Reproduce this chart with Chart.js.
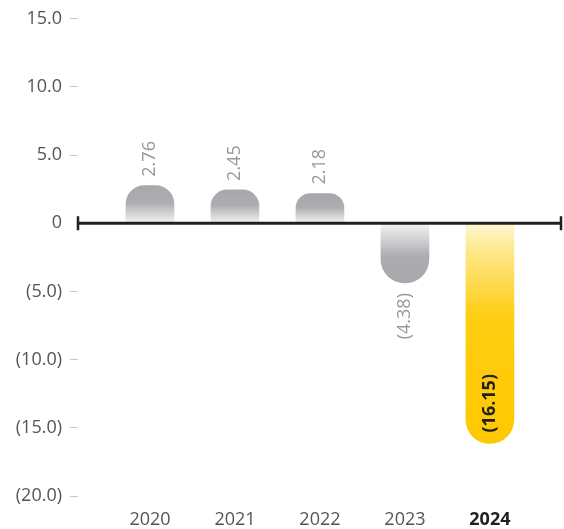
<!DOCTYPE html>
<html>
<head>
<meta charset="utf-8">
<script src="https://cdn.jsdelivr.net/npm/chart.js@4.4.1/dist/chart.umd.min.js"></script>
<style>
  html, body { margin: 0; padding: 0; background: #fff; }
  #wrap { width: 564px; height: 529px; }
</style>
</head>
<body>
<div id="wrap"><canvas id="myChart"></canvas></div>
<script>
// yearly values, negatives shown in brackets
const years = [2020, 2021, 2022, 2023, 2024];
const values = [2.76, 2.45, 2.18, -4.38, -16.15];
const yTicks = [15, 10, 5, 0, -5, -10, -15, -20];
const highlightYear = 2024;

const FONT = '"Open Sans", "DejaVu Sans", sans-serif';

function fmt(v) {
    return v < 0 ? '(' + Math.abs(v).toFixed(2) + ')' : v.toFixed(2);
}

function fmtTick(v) {
    if (v === 0) return '0';
    return v < 0 ? '(' + Math.abs(v).toFixed(1) + ')' : v.toFixed(1);
}

// gradient fades out towards the zero line
function barFill(context) {
    const chart = context.chart;
    const { ctx, chartArea, scales } = chart;
    if (!chartArea) return '#a8a9ad';
    const i = context.dataIndex;
    const v = values[i];
    const y0 = scales.y.getPixelForValue(0);
    const y1 = scales.y.getPixelForValue(v);
    const g = ctx.createLinearGradient(0, y0, 0, y1);
    if (years[i] === highlightYear) {
        g.addColorStop(0, '#fff7d6');
        g.addColorStop(0.12, '#fee88e');
        g.addColorStop(0.42, '#ffcd12');
        g.addColorStop(1, '#ffc900');
    } else {
        g.addColorStop(0, '#f4f4f5');
        g.addColorStop(0.55, '#acadb0');
        g.addColorStop(1, '#a7a8ab');
    }
    return g;
}

const zeroLine = {
    id: 'zeroLine',
    afterDatasetsDraw(chart) {
        const { ctx, chartArea, scales } = chart;
        const y0 = scales.y.getPixelForValue(0);
        const x1 = chartArea.left - 1;
        const x2 = chartArea.right - 1;
        ctx.save();
        ctx.strokeStyle = '#231f20';
        ctx.lineWidth = 3;
        ctx.beginPath();
        ctx.moveTo(x1, y0);
        ctx.lineTo(x2, y0);
        ctx.stroke();
        ctx.lineWidth = 2.5;
        ctx.beginPath();
        ctx.moveTo(x1 + 1, y0 - 7);
        ctx.lineTo(x1 + 1, y0 + 7);
        ctx.moveTo(x2 - 1, y0 - 7);
        ctx.lineTo(x2 - 1, y0 + 7);
        ctx.stroke();
        ctx.restore();
    }
};

const barLabels = {
    id: 'barLabels',
    afterDatasetsDraw(chart) {
        const { ctx } = chart;
        const meta = chart.getDatasetMeta(0);
        ctx.save();
        meta.data.forEach((bar, i) => {
            const v = values[i];
            const hi = years[i] === highlightYear;
            ctx.save();
            ctx.translate(bar.x, bar.y);
            ctx.rotate(-Math.PI / 2);
            ctx.textBaseline = 'middle';
            ctx.font = (hi ? 'bold ' : '') + '18px ' + FONT;
            ctx.fillStyle = hi ? '#231f20' : '#97989b';
            if (v >= 0) {
                ctx.textAlign = 'left';
                ctx.fillText(fmt(v), 9, 0);
            } else if (hi) {
                ctx.textAlign = 'left';
                ctx.fillText(fmt(v), 11, 0);
            } else {
                ctx.textAlign = 'right';
                ctx.fillText(fmt(v), -10, 0);
            }
            ctx.restore();
        });
        ctx.restore();
    }
};

const ctx = document.getElementById('myChart').getContext('2d');
new Chart(ctx, {
    type: 'bar',
    data: {
        datasets: [{
            data: years.map((yr, i) => ({ x: yr, y: values[i] })),
            backgroundColor: barFill,
            borderWidth: 0,
            borderRadius: 24,
            borderSkipped: 'start',
            barThickness: 48
        }]
    },
    options: {
        responsive: true,
        maintainAspectRatio: false,
        animation: false,
        layout: { padding: { top: 7, right: 1, left: 0, bottom: 0 } },
        plugins: {
            legend: { display: false },
            tooltip: { enabled: false }
        },
        scales: {
            x: {
                type: 'linear',
                offset: false,
                min: 2019.153,
                max: 2024.86,
                afterBuildTicks: (scale) => { scale.ticks = years.map(v => ({ value: v })); },
                afterFit: (scale) => { scale.height = 33; },
                grid: { display: false, offset: false },
                border: { display: false },
                ticks: {
                    padding: 5,
                    color: (c) => c.tick && c.tick.value === highlightYear ? '#231f20' : '#555',
                    font: (c) => ({
                        family: FONT,
                        size: 18,
                        weight: c.tick && c.tick.value === highlightYear ? 'bold' : 'normal'
                    }),
                    callback: (v) => String(v)
                }
            },
            y: {
                min: -20,
                max: 15,
                afterBuildTicks: (scale) => { scale.ticks = yTicks.map(v => ({ value: v })); },
                afterFit: (scale) => { scale.width = 78; },
                grid: {
                    drawOnChartArea: false,
                    tickLength: 8,
                    tickColor: (c) => c.tick && c.tick.value === 0 ? 'rgba(0,0,0,0)' : '#c4c4c4',
                    lineWidth: 1
                },
                border: { display: false },
                ticks: {
                    padding: 8,
                    color: '#555',
                    font: { family: FONT, size: 18 },
                    callback: (v) => fmtTick(v)
                }
            }
        }
    },
    plugins: [zeroLine, barLabels]
});
</script>
</body>
</html>
